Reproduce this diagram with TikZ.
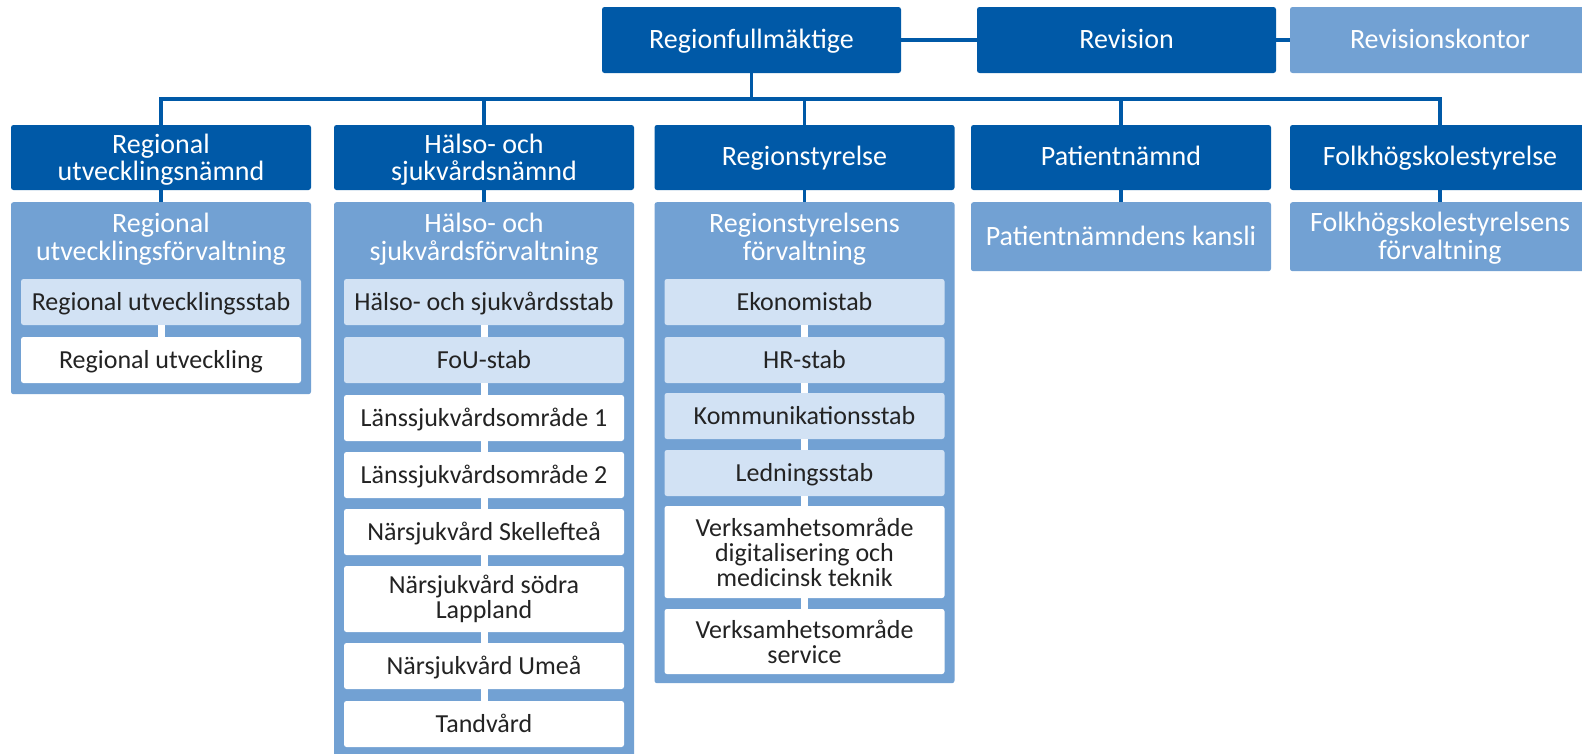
\documentclass[tikz,border=0pt]{standalone}
\usepackage{fontspec}
\setmainfont{Carlito}
\definecolor{dkblue}{RGB}{0,89,167}
\definecolor{mdblue}{RGB}{114,161,211}
\definecolor{ltblue}{RGB}{210,226,244}
\definecolor{txt}{RGB}{35,35,35}
\begin{document}
\begin{tikzpicture}[x=1pt,y=-1pt,
  dk/.style={rectangle, rounded corners=2.5pt, fill=dkblue, text=white,
    font=\fontsize{28}{27}\selectfont, align=center,
    minimum width=300pt, minimum height=65pt, inner sep=0pt},
  dkone/.style={dk, text height=16pt, text depth=0pt},
  dktwo/.style={dk, text depth=0pt},
  mid/.style={rectangle, rounded corners=2.5pt, fill=mdblue, minimum width=300pt,
    anchor=north, inner sep=0pt},
  ttl/.style={text=white, font=\fontsize{28}{28}\selectfont, align=center, inner sep=0pt},
  inr/.style={rectangle, rounded corners=2.5pt, minimum width=280pt, inner sep=0pt,
    align=center, font=\fontsize{26}{25}\selectfont, text=txt},
  lt/.style={inr, fill=ltblue},
  wh/.style={inr, fill=white},
  one/.style={text height=17pt, text depth=0pt},
  conn/.style={draw=dkblue, line width=3.5pt},
  wconn/.style={draw=white, line width=7pt}]
\useasboundingbox (0,0) rectangle (1582,753);
\clip (0,0) rectangle (1582,753);
\fill[white] (0,0) rectangle (1582,753);

% top row
\node[dkone, minimum width=299pt, minimum height=66pt] (rf) at (751.5,40) {Regionfullmäktige};
\node[dkone, minimum width=299pt, minimum height=66pt] (rev) at (1126.5,40) {Revision};
\node[dkone, fill=mdblue, minimum width=300pt, minimum height=66pt] (revk) at (1440,40) {Revisionskontor};

% level 2
\node[dktwo] (n1) at (161,157.5) {Regional\\utvecklingsnämnd};
\node[dktwo] (n2) at (484,157.5) {Hälso- och\\sjukvårdsnämnd};
\node[dkone] (n3) at (804.5,157.5) {Regionstyrelse};
\node[dkone] (n4) at (1121,157.5) {Patientnämnd};
\node[dkone] (n5) at (1440,157.5) {Folkhögskolestyrelse};

% level 3 containers
\node[mid, minimum height=192pt] (f1) at (161,202) {};
\node[mid, minimum height=560pt] (f2) at (484,202) {};
\node[mid, minimum height=481pt] (f3) at (804.5,202) {};
\node[mid, minimum height=69pt] (f4) at (1121,202) {};
\node[mid, minimum height=69pt] (f5) at (1440,202) {};

\node[ttl] (t1) at (161,239) {Regional\\utvecklingsförvaltning};
\node[ttl] (t2) at (484,239) {Hälso- och\\sjukvårdsförvaltning};
\node[ttl] (t3) at (804.5,239) {Regionstyrelsens\\förvaltning};
\node[ttl, one] (t4) at (1121,236.5) {Patientnämndens kansli};
\node[ttl] (t5) at (1440,238) {Folkhögskolestyrelsens\\förvaltning};

% column 1 inner
\node[lt, one, minimum height=46pt] (s11) at (161,302) {Regional utvecklingsstab};
\node[wh, one, minimum height=46pt] (s12) at (161,360) {Regional utveckling};

% column 2 inner
\node[lt, one, minimum height=46pt] (s21) at (484,302) {Hälso- och sjukvårdsstab};
\node[lt, one, minimum height=46pt] (s22) at (484,360) {FoU-stab};
\node[wh, one, minimum height=46pt] (s23) at (484,418) {Länssjukvårdsområde 1};
\node[wh, one, minimum height=46pt] (s24) at (484,475) {Länssjukvårdsområde 2};
\node[wh, one, minimum height=46pt] (s25) at (484,532) {Närsjukvård Skellefteå};
\node[wh, minimum height=66pt] (s26) at (484,599) {Närsjukvård södra\\Lappland};
\node[wh, one, minimum height=46pt] (s27) at (484,666) {Närsjukvård Umeå};
\node[wh, one, minimum height=46pt] (s28) at (484,724) {Tandvård};

% column 3 inner
\node[lt, one, minimum height=46pt] (s31) at (804.5,302) {Ekonomistab};
\node[lt, one, minimum height=46pt] (s32) at (804.5,360) {HR-stab};
\node[lt, one, minimum height=46pt] (s33) at (804.5,416) {Kommunikationsstab};
\node[lt, one, minimum height=46pt] (s34) at (804.5,473) {Ledningsstab};
\node[wh, minimum height=92pt] (s35) at (804.5,552) {Verksamhetsområde\\digitalisering och\\medicinsk teknik};
\node[wh, minimum height=65pt] (s36) at (804.5,641.5) {Verksamhetsområde\\service};

% dark connectors
\coordinate (busy) at (0,99);
\draw[conn] (rf.east) -- (rev.west);
\draw[conn] (rev.east) -- (revk.west);
\draw[conn] (rf.south) -- (rf.south |- busy);
\draw[conn, line join=miter] (n1.north) -- (n1.north |- busy) -- (n5.north |- busy) -- (n5.north);
\draw[conn] (n2.north) -- (n2.north |- busy);
\draw[conn] (n3.north) -- (n3.north |- busy);
\draw[conn] (n4.north) -- (n4.north |- busy);
\foreach \i in {1,...,5} {\draw[conn] (n\i.south) -- (f\i.north);}

% white connectors
\draw[wconn] (s11.south) -- (s12.north);
\foreach \a/\b in {21/22,22/23,23/24,24/25,25/26,26/27,27/28,31/32,32/33,33/34,34/35,35/36}
  {\draw[wconn] (s\a.south) -- (s\b.north);}
\end{tikzpicture}
\end{document}
